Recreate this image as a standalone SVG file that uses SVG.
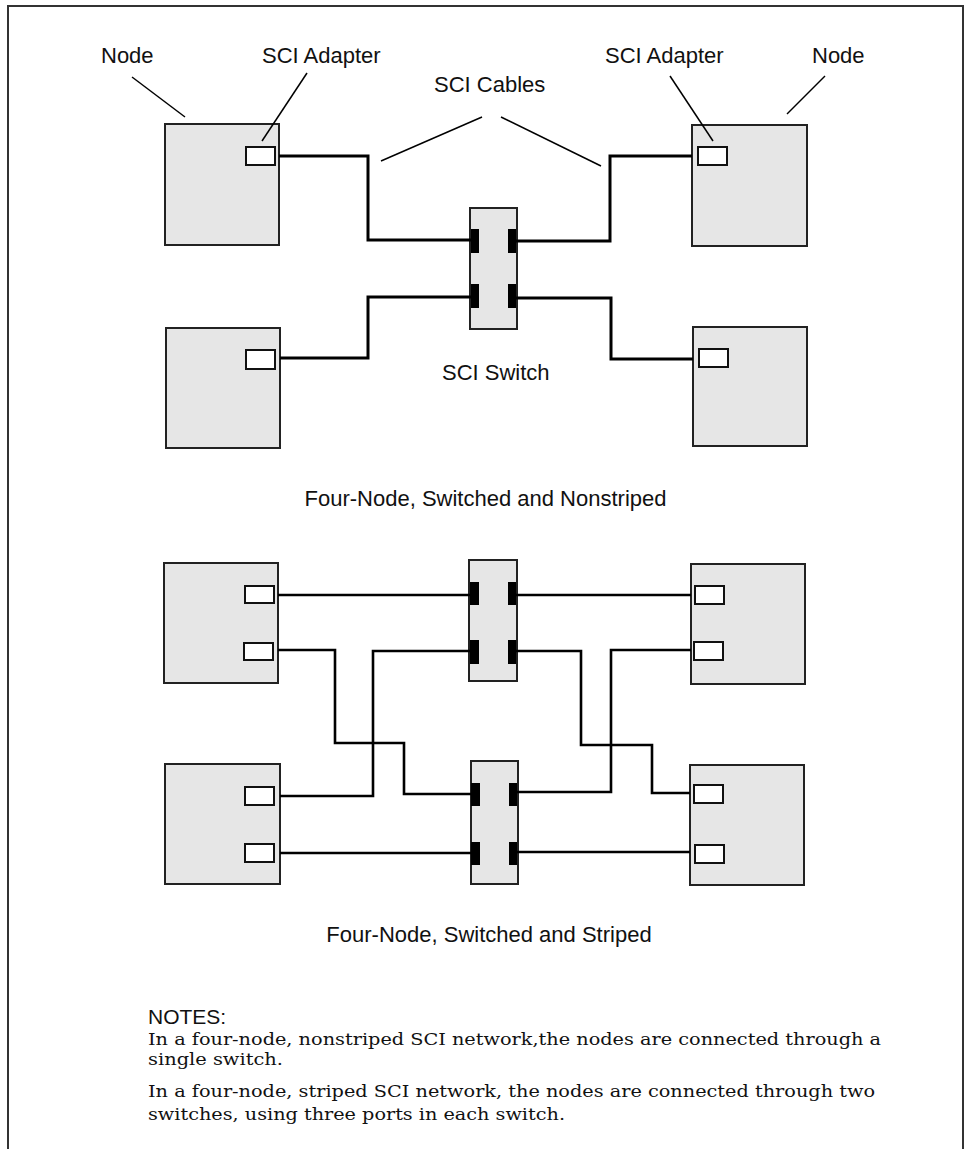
<svg xmlns="http://www.w3.org/2000/svg" width="968" height="1149" viewBox="0 0 968 1149">
<style>
.frame{fill:none;stroke:#333;stroke-width:2}
.node{fill:#e6e6e6;stroke:#222;stroke-width:2}
.adp{fill:#fff;stroke:#111;stroke-width:2}
.sw{fill:#e6e6e6;stroke:#222;stroke-width:2}
.port{fill:#000}
.cable{fill:none;stroke:#000;stroke-width:3;stroke-linejoin:miter}
.cable2{fill:none;stroke:#000;stroke-width:2.6;stroke-linejoin:miter}
.lead{fill:none;stroke:#000;stroke-width:1.5}
.lbl{font-family:"Liberation Sans",Arial,sans-serif;font-size:22px;fill:#111}
.note{font-family:"DejaVu Serif","Liberation Serif",serif;font-size:17px;fill:#111}
</style>
<rect width="968" height="1149" fill="#fff"/>
<path class="frame" d="M8,1149 V6 H963 V1149"/>

<!-- Top: four-node, switched, nonstriped -->
<g id="n1"><rect class="node" x="165" y="124" width="114" height="121"/><rect class="adp" x="246" y="147" width="29" height="18"/></g>
<g id="n2"><rect class="node" x="692" y="125" width="115" height="121"/><rect class="adp" x="698" y="147" width="29" height="18"/></g>
<g id="n3"><rect class="node" x="166" y="328" width="114" height="120"/><rect class="adp" x="246" y="350" width="29" height="19"/></g>
<g id="n4"><rect class="node" x="693" y="327" width="114" height="119"/><rect class="adp" x="699" y="349" width="29" height="18"/></g>
<g id="sw1"><rect class="sw" x="470" y="208" width="47" height="121"/>
<rect class="port" x="471" y="229" width="8" height="24"/><rect class="port" x="471" y="284" width="8" height="24"/>
<rect class="port" x="508" y="229" width="8" height="24"/><rect class="port" x="508" y="284" width="8" height="24"/></g>

<!-- Bottom: four-node, switched, striped -->
<g id="n5"><rect class="node" x="164" y="563" width="114" height="120"/><rect class="adp" x="245" y="586" width="29" height="17"/><rect class="adp" x="244" y="643" width="29" height="17"/></g>
<g id="n6"><rect class="node" x="165" y="764" width="115" height="120"/><rect class="adp" x="245" y="787" width="29" height="18"/><rect class="adp" x="245" y="844" width="29" height="18"/></g>
<g id="n7"><rect class="node" x="691" y="564" width="114" height="120"/><rect class="adp" x="695" y="586" width="29" height="18"/><rect class="adp" x="694" y="642" width="29" height="18"/></g>
<g id="n8"><rect class="node" x="690" y="765" width="114" height="120"/><rect class="adp" x="694" y="785" width="29" height="18"/><rect class="adp" x="695" y="845" width="29" height="18"/></g>
<g id="sw2"><rect class="sw" x="469" y="560" width="48" height="121"/>
<rect class="port" x="470" y="582" width="9" height="23"/><rect class="port" x="470" y="640" width="9" height="24"/>
<rect class="port" x="508" y="582" width="8" height="23"/><rect class="port" x="508" y="640" width="8" height="24"/></g>
<g id="sw3"><rect class="sw" x="471" y="761" width="47" height="123"/>
<rect class="port" x="471" y="783" width="9" height="23"/><rect class="port" x="471" y="842" width="9" height="23"/>
<rect class="port" x="509" y="783" width="8" height="23"/><rect class="port" x="509" y="842" width="8" height="23"/></g>

<g id="connectors">
<path class="cable" d="M279,156 H368 V240 H471"/>
<path class="cable" d="M280,358 H368 V297 H471"/>
<path class="cable" d="M516,241 H610 V156 H692"/>
<path class="cable" d="M516,298 H611 V359 H693"/>
<path class="cable2" d="M278,595 H470"/>
<path class="cable2" d="M278,650 H335 V743 H404 V794 H471"/>
<path class="cable2" d="M470,651 H373 V796 H280"/>
<path class="cable2" d="M280,853 H471"/>
<path class="cable2" d="M516,595 H691"/>
<path class="cable2" d="M516,651 H581 V745 H652 V793 H690"/>
<path class="cable2" d="M691,650 H611 V792 H517"/>
<path class="cable2" d="M517,852 H690"/>
<path class="lead" d="M132,77 L185,117"/>
<path class="lead" d="M307,73 L262,141"/>
<path class="lead" d="M482,117 L381,161"/>
<path class="lead" d="M501,117 L601,166"/>
<path class="lead" d="M670,76 L713,141"/>
<path class="lead" d="M825,76 L787,114"/>
</g>

<g id="labels">
<text class="lbl" x="101" y="63">Node</text>
<text class="lbl" x="262" y="63">SCI Adapter</text>
<text class="lbl" x="605" y="63">SCI Adapter</text>
<text class="lbl" x="812" y="63">Node</text>
<text class="lbl" x="434" y="92">SCI Cables</text>
<text class="lbl" x="442" y="380">SCI Switch</text>
<text class="lbl" x="485.5" y="506" text-anchor="middle">Four-Node, Switched and Nonstriped</text>
<text class="lbl" x="489" y="942" text-anchor="middle">Four-Node, Switched and Striped</text>
</g>

<g id="notes">
<text class="lbl" x="148" y="1024" style="font-size:21px">NOTES:</text>
<text class="note" x="148" y="1045" textLength="733" lengthAdjust="spacingAndGlyphs">In a four-node, nonstriped SCI network,the nodes are connected through a</text>
<text class="note" x="148" y="1065" textLength="135" lengthAdjust="spacingAndGlyphs">single switch.</text>
<text class="note" x="148" y="1097" textLength="727" lengthAdjust="spacingAndGlyphs">In a four-node, striped SCI network, the nodes are connected through two</text>
<text class="note" x="148" y="1120" textLength="417" lengthAdjust="spacingAndGlyphs">switches, using three ports in each switch.</text>
</g>
</svg>
